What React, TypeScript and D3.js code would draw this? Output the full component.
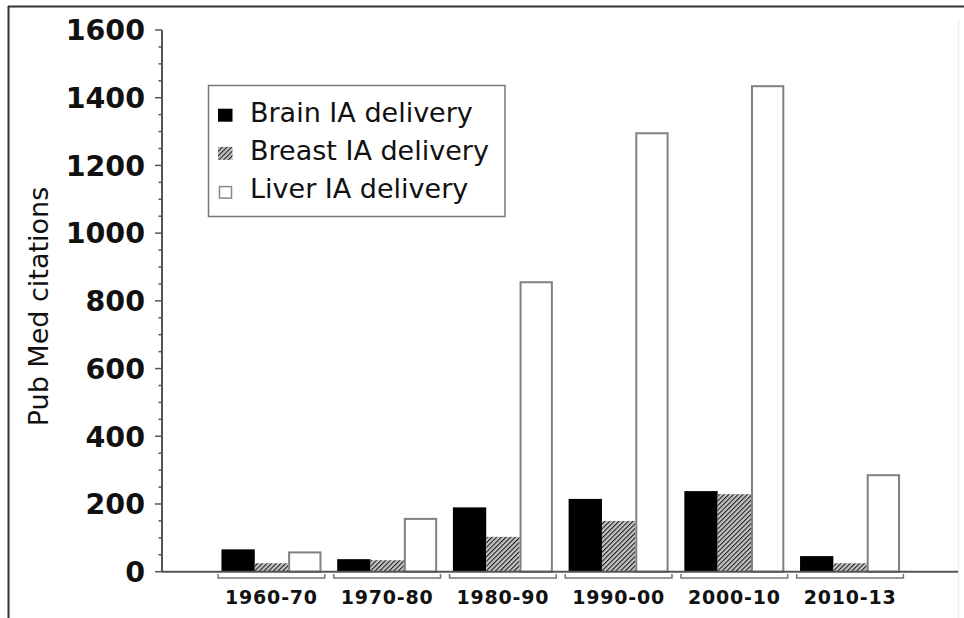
import React from "react";
import * as d3 from "d3";

const categories = ["1960-70", "1970-80", "1980-90", "1990-00", "2000-10", "2010-13"];
const seriesNames = ["Brain IA delivery", "Breast IA delivery", "Liver IA delivery"];
const brain = [66, 37, 190, 215, 238, 46];
const breast = [25, 34, 103, 150, 229, 25];
const liver = [57, 156, 855, 1295, 1434, 285];
const yTicks = [0, 200, 400, 600, 800, 1000, 1200, 1400, 1600];
const yMinorTicks = d3.range(0, 1601, 50);

const W = 964;
const H = 618;

export default function App() {
  const y = d3.scaleLinear().domain([0, 1600]).range([571.7, 30]);
  const x = d3.scaleBand<string>().domain(categories).range([213.6, 907.9]).paddingInner(0).paddingOuter(0);
  const x1 = d3.scaleBand<string>().domain(seriesNames).range([0, x.bandwidth()]).paddingInner(0).paddingOuter(0.236);
  const seriesValues = [brain, breast, liver];
  const fills = ["#000", "url(#hatch)", "#fff"];
  const axisX = 162;
  const baseY = y(0);

  return (
    <svg width={W} height={H} style={{ position: "absolute", left: 0, top: 0, background: "#fff" }}
      fontFamily="'DejaVu Sans', sans-serif">
      <defs>
        <pattern id="hatch" width="3.3" height="3.3" patternUnits="userSpaceOnUse" patternTransform="rotate(45)">
          <rect width="3.3" height="3.3" fill="#c4c4c4" />
          <line x1="0" y1="0" x2="0" y2="3.3" stroke="#1a1a1a" strokeWidth="2.1" />
        </pattern>
      </defs>
      <rect x={0} y={0} width={W} height={H} fill="#fff" />
      {/* frame */}
      <line x1={8} y1={6.5} x2={W} y2={6.5} stroke="#333" strokeWidth={2} />
      <line x1={8.5} y1={6} x2={8.5} y2={H} stroke="#333" strokeWidth={2} />
      <line x1={958.5} y1={20} x2={958.5} y2={H} stroke="#eee" strokeWidth={1.5} />

      {/* bars */}
      {categories.map((c, i) => (
        <g key={c} transform={`translate(${x(c)},0)`}>
          {seriesNames.map((s, j) => {
            const v = seriesValues[j][i];
            const bx = x1(s)!;
            const top = y(v);
            if (j === 2) {
              return <rect key={s} x={bx + 1} y={top} width={x1.bandwidth() - 2} height={baseY - top}
                fill="#fff" stroke="#808080" strokeWidth={2} />;
            }
            return <rect key={s} x={bx} y={top} width={x1.bandwidth()} height={baseY - top} fill={fills[j]} />;
          })}
        </g>
      ))}

      {/* y axis */}
      <line x1={axisX} y1={y(1600)} x2={axisX} y2={baseY} stroke="#555" strokeWidth={2} />
      {yMinorTicks.map((t) => (
        <line key={"m" + t} x1={axisX - (t % 200 === 0 ? 7 : 3.5)} x2={axisX} y1={y(t)} y2={y(t)}
          stroke="#555" strokeWidth={1.5} />
      ))}
      {yTicks.map((t) => (
        <text key={t} x={145} y={y(t)} dy="0.36em" textAnchor="end" fontSize={28.5} fontWeight="bold" fill="#111">
          {t}
        </text>
      ))}
      <text transform={`translate(48,${(185 + 428) / 2}) rotate(-90)`} textAnchor="middle" fontSize={27} fill="#111">
        Pub Med citations
      </text>

      {/* x axis */}
      <line x1={axisX} x2={958} y1={baseY} y2={baseY} stroke="#555" strokeWidth={2} />
      {categories.map((c) => {
        const x0 = x(c)! + 4.5;
        const xe = x(c)! + x.bandwidth() - 4.5;
        return (
          <g key={"b" + c}>
            <path d={`M${x0},${574} V${578} H${xe} V${574}`} fill="none" stroke="#777" strokeWidth={1.5} />
            <text x={x(c)! + x.bandwidth() / 2} y={603.5} textAnchor="middle" fontSize={19} fontWeight="bold"
              letterSpacing={0.8} fill="#111">
              {c}
            </text>
          </g>
        );
      })}

      {/* legend */}
      <rect x={208.5} y={85.5} width={296.5} height={131} fill="#fff" stroke="#777" strokeWidth={1.5} />
      {seriesNames.map((s, j) => {
        const by = 121.7 + j * 38.2;
        return (
          <g key={"l" + s}>
            {j === 2 ? (
              <rect x={219.5} y={by - 11.5} width={12} height={11.5} fill="#fff" stroke="#888" strokeWidth={1.5} />
            ) : (
              <rect x={218} y={by - 13} width={14.5} height={13} fill={fills[j]} />
            )}
            <text x={250} y={by} fontSize={27} fill="#111">
              {s}
            </text>
          </g>
        );
      })}
    </svg>
  );
}
